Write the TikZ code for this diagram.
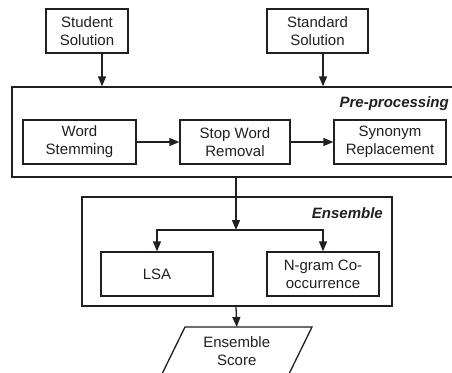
\documentclass[tikz,border=0pt]{standalone}
\usepackage{fontspec}
\setmainfont{Liberation Sans}
\usetikzlibrary{arrows.meta,calc}
\definecolor{ink}{HTML}{231F20}
\begin{document}
\begin{tikzpicture}[x=1pt,y=1pt,
  box/.style={draw=ink, line width=1.3pt, inner sep=0pt, align=center, text=ink,
    font=\fontsize{15}{18}\selectfont, minimum height=44pt},
  group/.style={draw=ink, line width=1.3pt, inner sep=0pt},
  lbl/.style={inner sep=0pt, text=ink, font=\fontsize{15}{18}\selectfont\bfseries\itshape},
  arr/.style={-{Triangle[length=10pt,width=8pt]}, line width=1.3pt, draw=ink}]
\useasboundingbox (0,0) rectangle (452,-372);
% top inputs
\node[box, minimum width=82pt] (student) at (87,-31) {Student\\Solution};
\node[box, minimum width=101pt] (standard) at (317.5,-31) {Standard\\Solution};
% pre-processing group
\node[group, minimum width=446pt, minimum height=90pt] (pre) at (235,-132) {};
\node[lbl, anchor=east] (prelbl) at (449,-104) {Pre-processing};
\node[box, minimum width=113pt] (ws) at (79.5,-142) {Word\\Stemming};
\node[box, minimum width=110pt] (sw) at (235,-142) {Stop Word\\Removal};
\node[box, minimum width=112pt] (syn) at (390,-142) {Synonym\\Replacement};
% ensemble group
\node[group, minimum width=310pt, minimum height=109pt] (ens) at (237,-251.5) {};
\node[lbl, anchor=east] (enslbl) at (383,-213) {Ensemble};
\node[box, minimum width=112pt] (lsa) at (157,-274) {LSA};
\node[box, minimum width=112pt] (ngram) at (323,-274) {N-gram Co-\\occurrence};
% output
\node[inner sep=0pt, align=center, text=ink, font=\fontsize{15}{18}\selectfont] (score) at (236.75,-351) {Ensemble\\Score};
\draw[draw=ink, line width=1.3pt] ($(score)+(-51.75,24)$) -- ($(score)+(75.25,24)$) -- ($(score)+(51.75,-24)$) -- ($(score)+(-75.25,-24)$) -- cycle;
\coordinate (scoretop) at ($(score)+(0,24)$);
% helper x positions
\coordinate (xa) at (102,0);
\coordinate (xb) at (323,0);
\coordinate (xc) at (236,0);
\coordinate (branch) at (236,-230);
% connectors
\draw[arr] (student.south -| xa) -- (pre.north -| xa);
\draw[arr] (standard.south -| xb) -- (pre.north -| xb);
\draw[arr] (ws) -- (sw);
\draw[arr] (sw) -- (syn);
\draw[arr] (pre.south -| xc) -- (branch);
\draw[arr] (branch) -| (lsa.north);
\draw[arr] (branch) -| (ngram.north);
\draw[arr] (ens.south -| xc) -- (scoretop);
\end{tikzpicture}
\end{document}
